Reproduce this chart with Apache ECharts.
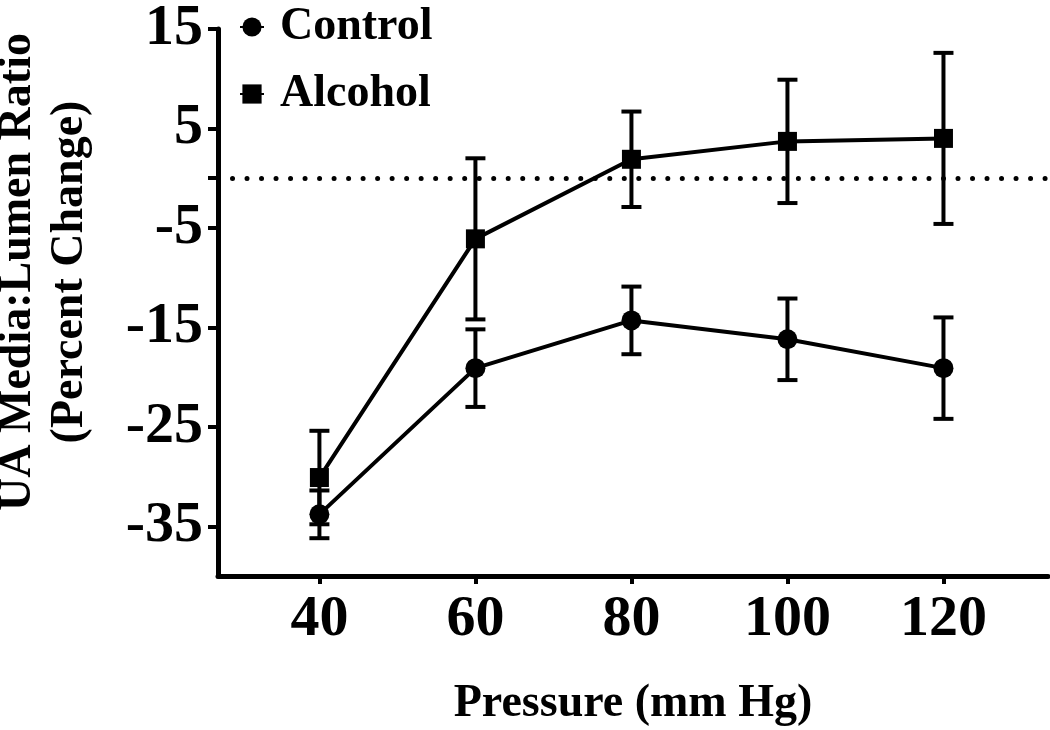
<!DOCTYPE html>
<html>
<head>
<meta charset="utf-8">
<script src="https://cdn.jsdelivr.net/npm/echarts@6/dist/echarts.min.js"></script>
<style>html,body{margin:0;padding:0;background:#fff;}#chart{width:1050px;height:730px;}</style>
</head>
<body>
<div id="chart"></div>
<script>
const pressures = [40, 60, 80, 100, 120];
const controlMean = [-33.8, -19.1, -14.3, -16.2, -19.1];
const controlErr = [2.4, 3.9, 3.4, 4.1, 5.1];
const alcoholMean = [-30.1, -6.1, 1.9, 3.7, 4.0];
const alcoholErr = [4.7, 8.1, 4.8, 6.2, 8.6];
const yLabelValues = [-35, -25, -15, -5, 5, 15];
const yTickValues = [-35, -25, -15, -5, 0, 5, 15];
const xTickValues = [40, 60, 80, 100, 120];
const seriesNames = ['Control', 'Alcohol'];
const xTitle = 'Pressure (mm Hg)';
const yTitle = 'UA Media:Lumen Ratio\n(Percent Change)';

const FONT = "'Liberation Serif', 'Times New Roman', serif";
const chart = echarts.init(document.getElementById('chart'), null, {renderer: 'canvas'});

function errData(means, errs) {
  return pressures.map((p, i) => [p, means[i] - errs[i], means[i] + errs[i]]);
}
function errRender(params, api) {
  const x = api.value(0);
  const lo = api.coord([x, api.value(1)]);
  const hi = api.coord([x, api.value(2)]);
  const hw = 10;
  const st = {stroke: '#000', lineWidth: 4};
  return {
    type: 'group',
    children: [
      {type: 'line', shape: {x1: lo[0], y1: lo[1], x2: hi[0], y2: hi[1]}, style: st},
      {type: 'line', shape: {x1: lo[0] - hw, y1: lo[1], x2: lo[0] + hw, y2: lo[1]}, style: st},
      {type: 'line', shape: {x1: hi[0] - hw, y1: hi[1], x2: hi[0] + hw, y2: hi[1]}, style: st}
    ]
  };
}

const legendCommon = {
  orient: 'vertical',
  padding: 0,
  itemWidth: 24,
  itemHeight: 24,
  textStyle: {fontFamily: FONT, fontWeight: 'bold', fontSize: 46, color: '#000', padding: [8, 0, 0, 11]}
};

const option = {
  backgroundColor: '#fff',
  animation: false,
  legend: [
    Object.assign({}, legendCommon, {data: [seriesNames[0]], left: 239, top: 4}),
    Object.assign({}, legendCommon, {data: [seriesNames[1]], left: 239, top: 71})
  ],
  grid: {left: 218, right: 2, top: 24, bottom: 154, containLabel: false},
  xAxis: {
    type: 'value', min: 27, max: 133.4,
    splitLine: {show: false},
    axisLine: {show: true, onZero: false, lineStyle: {color: '#000', width: 5}},
    axisTick: {show: true, customValues: xTickValues, length: 8, lineStyle: {color: '#000', width: 4}},
    axisLabel: {customValues: xTickValues, margin: 15, fontFamily: FONT, fontWeight: 'bold', fontSize: 58, color: '#000'}
  },
  yAxis: {
    type: 'value', min: -40, max: 15,
    splitLine: {show: false},
    axisLine: {show: true, onZero: false, lineStyle: {color: '#000', width: 5}},
    axisTick: {show: true, customValues: yTickValues, length: 10, lineStyle: {color: '#000', width: 4}},
    axisLabel: {customValues: yLabelValues, margin: 15, fontFamily: FONT, fontWeight: 'bold', fontSize: 58, color: '#000'}
  },
  graphic: [
    {type: 'text', x: 633, y: 704, style: {text: xTitle, fontFamily: FONT, fontWeight: 'bold', fontSize: 46, fill: '#000', align: 'center', verticalAlign: 'middle'}},
    {type: 'text', x: 44, y: 272, rotation: Math.PI / 2, style: {text: yTitle, fontFamily: FONT, fontWeight: 'bold', fontSize: 46, lineHeight: 52, fill: '#000', align: 'center', verticalAlign: 'middle'}}
  ],
  series: [
    {
      name: 'ref', type: 'line', data: [], silent: true, z: 1,
      markLine: {
        silent: true, symbol: 'none', label: {show: false},
        lineStyle: {color: '#000', width: 5, type: [0.01, 14.5], cap: 'round'},
        data: [{yAxis: 0}]
      }
    },
    {name: seriesNames[0] + ' err', type: 'custom', renderItem: errRender, data: errData(controlMean, controlErr), z: 3},
    {name: seriesNames[1] + ' err', type: 'custom', renderItem: errRender, data: errData(alcoholMean, alcoholErr), z: 3},
    {
      name: seriesNames[0], type: 'line', data: pressures.map((p, i) => [p, controlMean[i]]),
      symbol: 'circle', symbolSize: 20, lineStyle: {color: '#000', width: 4}, itemStyle: {color: '#000'}, z: 4
    },
    {
      name: seriesNames[1], type: 'line', data: pressures.map((p, i) => [p, alcoholMean[i]]),
      symbol: 'rect', symbolSize: 19, lineStyle: {color: '#000', width: 4}, itemStyle: {color: '#000'}, z: 4
    }
  ]
};
chart.setOption(option);
</script>
</body>
</html>
